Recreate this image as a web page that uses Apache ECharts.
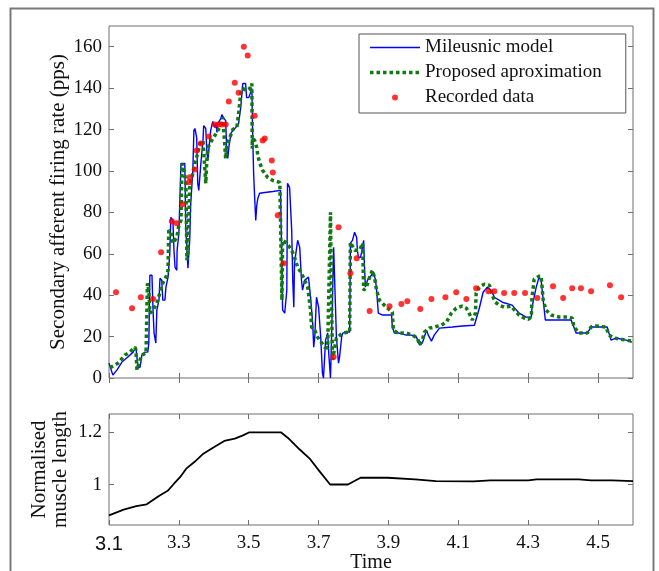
<!DOCTYPE html>
<html>
<head>
<meta charset="utf-8">
<script src="https://cdn.jsdelivr.net/npm/echarts@6/dist/echarts.min.js"></script>
<style>
html,body{margin:0;padding:0;background:#fff;}
#chart{width:659px;height:571px;}
</style>
</head>
<body>
<div id="chart"></div>
<script>
// ---------- Data ----------
const mileusnicTime = [3.100,3.111,3.123,3.137,3.154,3.169,3.177,3.180,3.183,3.189,
3.194,3.203,3.211,3.214,3.217,3.223,3.226,3.229,3.234,3.237,
3.243,3.246,3.251,3.254,3.260,3.263,3.269,3.274,3.277,3.283,
3.286,3.289,3.294,3.295,3.300,3.306,3.317,3.320,3.326,3.331,
3.334,3.340,3.343,3.346,3.351,3.354,3.357,3.363,3.369,3.371,
3.377,3.380,3.383,3.391,3.397,3.403,3.406,3.409,3.411,3.420,
3.423,3.429,3.434,3.437,3.440,3.443,3.449,3.454,3.463,3.471,
3.477,3.483,3.486,3.491,3.494,3.500,3.509,3.511,3.514,3.517,
3.520,3.523,3.526,3.531,3.546,3.569,3.591,3.594,3.597,3.603,
3.609,3.611,3.617,3.623,3.626,3.629,3.631,3.640,3.646,3.651,
3.654,3.660,3.671,3.677,3.683,3.686,3.689,3.694,3.700,3.706,
3.711,3.714,3.720,3.726,3.729,3.734,3.737,3.743,3.746,3.751,
3.757,3.760,3.766,3.769,3.780,3.789,3.791,3.797,3.803,3.809,
3.811,3.814,3.820,3.823,3.829,3.831,3.834,3.840,3.851,3.857,
3.863,3.866,3.871,3.883,3.909,3.911,3.917,3.931,3.951,3.966,
3.980,3.989,3.997,4.009,4.014,4.023,4.031,4.046,4.083,4.111,
4.146,4.160,4.171,4.183,4.194,4.203,4.226,4.254,4.274,4.294,
4.309,4.311,4.323,4.331,4.337,4.343,4.349,4.369,4.423,4.437,
4.469,4.480,4.526,4.537,4.551,4.580,4.597];
const mileusnicRate = [7.2,1.4,3.9,7.7,10.1,12.5,14.9,10.1,4.8,5.3,
11.1,12.5,12.5,16.9,49.6,49.6,32.8,21.7,16.9,32.8,
37.6,48.2,47.2,37.6,37.6,43.9,48.7,60.2,77.6,76.1,
61.7,53.5,52.0,61.7,69.9,103.6,103.6,71.3,53.0,66.5,
84.3,100.2,119.5,120.5,116.1,94.0,90.6,103.6,114.7,121.9,
120.5,109.9,105.1,119.5,123.9,121.0,122.9,118.6,122.9,125.3,
127.2,125.3,124.3,109.9,106.0,111.3,118.1,119.5,121.0,122.9,
130.6,142.2,143.1,142.2,135.4,135.4,139.8,119.5,98.8,87.2,
76.1,83.4,86.7,89.2,89.6,90.1,90.6,61.7,32.8,31.3,
42.4,94.0,92.0,71.3,47.2,34.2,55.4,66.5,63.1,47.2,
42.4,47.2,48.7,39.0,26.5,14.9,19.8,39.0,34.2,19.8,
2.4,0,18.3,21.7,12.0,0,18.3,63.1,47.2,19.8,
7.2,10.1,19.8,21.7,22.2,22.2,65.1,66.5,70.4,67.9,
61.7,58.3,58.3,60.7,66.5,55.4,43.9,47.2,49.6,51.1,
47.2,42.4,31.3,30.4,30.4,24.6,21.7,21.7,20.7,20.7,
19.8,15.9,16.9,23.1,20.7,17.8,20.7,24.1,24.6,25.1,
25.5,33.7,41.4,43.9,42.4,39.0,36.6,35.2,31.3,29.4,
29.4,34.2,43.9,48.7,47.2,37.6,28.0,28.0,28.0,21.7,
21.7,24.6,24.6,18.3,19.3,18.3,17.3];

const approxTime = [3.103,3.126,3.146,3.160,3.174,3.177,3.180,3.186,3.194,3.206,
3.209,3.210,3.214,3.217,3.226,3.237,3.246,3.254,3.263,3.269,
3.271,3.277,3.283,3.294,3.300,3.306,3.309,3.314,3.320,3.323,
3.326,3.331,3.340,3.346,3.354,3.360,3.369,3.374,3.377,3.380,
3.383,3.394,3.403,3.411,3.420,3.426,3.431,3.434,3.437,3.446,
3.454,3.466,3.471,3.477,3.483,3.494,3.503,3.509,3.510,3.511,
3.517,3.523,3.526,3.531,3.540,3.554,3.569,3.589,3.594,3.595,
3.597,3.609,3.623,3.631,3.640,3.651,3.660,3.669,3.677,3.680,
3.689,3.697,3.709,3.717,3.726,3.734,3.737,3.740,3.751,3.769,
3.789,3.791,3.803,3.817,3.826,3.829,3.837,3.846,3.854,3.860,
3.866,3.874,3.894,3.911,3.914,3.926,3.951,3.969,3.983,3.989,
3.997,4.003,4.017,4.031,4.051,4.066,4.080,4.094,4.111,4.123,
4.131,4.140,4.149,4.151,4.160,4.174,4.189,4.197,4.206,4.217,
4.231,4.251,4.266,4.274,4.289,4.300,4.309,4.311,4.317,4.331,
4.337,4.343,4.351,4.366,4.389,4.417,4.426,4.431,4.446,4.469,
4.480,4.494,4.523,4.531,4.546,4.580,4.597];
const approxRate = [5.0,7.2,11.1,12.5,14.9,13.5,3.9,7.2,11.1,12.0,
12.5,45.8,42.4,31.3,32.8,36.1,41.4,45.8,48.7,52.0,
71.3,70.4,65.1,67.9,73.7,76.1,103.6,100.2,95.4,56.9,
61.7,92.0,98.8,104.1,108.4,113.2,114.7,114.7,94.0,105.1,
111.3,114.7,117.1,119.5,121.9,125.8,126.7,106.0,112.3,116.1,
120.0,121.0,127.7,137.3,139.8,138.8,139.8,142.2,110.8,116.1,
114.7,111.3,107.5,104.1,100.2,96.9,95.4,94.5,94.0,37.6,
66.5,65.1,61.7,58.3,53.5,50.6,47.2,43.9,32.8,24.6,
23.1,19.8,16.9,14.9,14.5,80.0,37.6,8.7,19.3,21.7,
22.2,65.5,61.7,61.7,65.1,42.4,43.9,48.7,52.0,48.7,
42.4,37.6,34.2,31.8,23.1,21.7,21.7,20.7,19.3,15.9,
18.3,22.2,24.1,24.6,25.5,27.0,31.3,33.7,34.7,33.7,
31.3,28.0,31.3,41.0,43.9,45.3,44.8,40.0,36.6,35.2,
34.2,34.7,31.8,30.4,28.9,28.4,29.4,39.0,47.7,49.2,
49.2,37.6,32.8,30.4,29.4,29.4,28.9,24.6,21.7,21.7,
24.6,25.1,24.6,20.7,19.3,18.3,17.8];

const recordedTime = [3.120,3.166,3.191,3.226,3.249,3.280,3.294,3.311,3.329,3.331,
3.346,3.351,3.363,3.386,3.403,3.414,3.423,3.434,3.443,3.460,
3.471,3.486,3.497,3.517,3.540,3.546,3.566,3.569,3.583,3.600,
3.743,3.757,3.791,3.809,3.846,3.903,3.937,3.954,3.991,4.023,
4.063,4.094,4.123,4.151,4.186,4.203,4.231,4.260,4.291,4.326,
4.371,4.400,4.426,4.451,4.480,4.534,4.566];
const recordedRate = [41.4,33.7,39.0,38.1,60.7,75.7,74.7,83.9,94.5,96.9,
100.7,109.9,113.3,116.6,122.4,122.4,122.4,122.4,133.5,142.6,
137.8,160,155.7,126.7,114.7,115.7,105,99.3,78.6,55.4,
10.1,72.8,50.6,57.8,32.3,34.7,35.7,37.1,33.3,38.1,
39.0,41.4,38.1,43.4,41.9,41.9,41.0,41.0,41.0,38.6,
44.3,38.6,43.4,43.4,41.9,44.8,39.0];

const lengthTime = [3.100,3.142,3.178,3.208,3.244,3.268,3.286,3.304,3.322,3.346,
3.370,3.400,3.430,3.460,3.482,3.502,3.592,3.616,3.646,3.676,
3.700,3.733,3.784,3.820,3.898,3.976,4.036,4.144,4.192,4.300,
4.324,4.444,4.480,4.540,4.600];
const lengthValue = [0.882,0.904,0.917,0.924,0.957,0.976,1.003,1.029,1.062,1.088,
1.118,1.143,1.167,1.176,1.187,1.2,1.2,1.174,1.134,1.097,
1.055,1.0,1.0,1.026,1.026,1.02,1.013,1.012,1.016,1.016,
1.02,1.02,1.016,1.016,1.013];

const seriesNames = ['Mileusnic model', 'Proposed aproximation', 'Recorded data'];
const rateTicks = [0, 20, 40, 60, 80, 100, 120, 140, 160];
const lengthTicks = [1, 1.2];
const timeTicks = [3.1, 3.3, 3.5, 3.7, 3.9, 4.1, 4.3, 4.5];
const yTitleTop = 'Secondary afferent firing rate (pps)';
const yTitleBottom = 'Normalised\nmuscle length';
const xTitle = 'Time';

// ---------- Build ----------
const zip = (a, b) => a.map((v, i) => [v, b[i]]);
const SERIF = 'Liberation Serif';
const FRAME = '#6f6f6f';
const TXT = '#111';

// legend icons (50 x 18 box)
const iconBox = 'path://M0,0M50,18';
const iconSolid = iconBox + 'M0,8.3H50V9.7H0Z';
let iconDots = iconBox;
for (let x = 0; x + 3.5 <= 50; x += 6.5) iconDots += 'M' + x + ',7.25h3.5v3.5h-3.5Z';
const iconDot = iconBox + 'M22,9a3,3 0 1,0 6,0a3,3 0 1,0 -6,0Z';

function xAx(grid, pos, labels) {
  return {
    type: 'value', gridIndex: grid, position: pos, min: 3.1, max: 4.6,
    axisLine: { show: false },
    axisTick: { show: true, inside: true, length: 5, customValues: timeTicks, lineStyle: { color: FRAME } },
    splitLine: { show: false },
    axisLabel: labels ? {
      show: true, customValues: timeTicks, margin: 9,
      fontFamily: SERIF, fontSize: 19, color: TXT,
      formatter: v => {
        const s = (Math.round(v * 10) / 10).toFixed(1);
        return Math.abs(v - 3.1) < 1e-6 ? '{s|' + s + '}' : s;
      },
      rich: { s: { fontFamily: 'Liberation Sans', fontSize: 20, color: TXT } }
    } : { show: false },
    name: labels ? xTitle : '',
    nameLocation: 'middle', nameGap: 28, nameMoveOverlap: false,
    nameTextStyle: { fontFamily: SERIF, fontSize: 20, color: TXT }
  };
}
function yAx(grid, pos, min, max, ticks, labels, name, gap) {
  return {
    type: 'value', gridIndex: grid, position: pos, min: min, max: max,
    axisLine: { show: false },
    axisTick: { show: true, inside: true, length: 5, customValues: ticks, lineStyle: { color: FRAME } },
    splitLine: { show: false },
    axisLabel: labels ? {
      show: true, customValues: ticks, margin: 7,
      fontFamily: SERIF, fontSize: 19, color: TXT,
      formatter: v => String(Math.round(v * 10) / 10)
    } : { show: false },
    name: name || '', nameLocation: 'middle', nameGap: gap || 0, nameMoveOverlap: false,
    nameTextStyle: { fontFamily: SERIF, fontSize: 21, color: TXT, lineHeight: 21 }
  };
}

const option = {
  animation: false,
  backgroundColor: '#fff',
  graphic: [{
    type: 'rect', left: 8, top: 6, silent: true,
    shape: { width: 643, height: 640 },
    style: { fill: 'none', stroke: '#7a7a7a', lineWidth: 2 }
  }],
  grid: [
    { left: 109, top: 26, width: 524, height: 352, show: true, borderColor: FRAME, borderWidth: 1, backgroundColor: '#fff', outerBoundsMode: 'none', containLabel: false },
    { left: 109, top: 414, width: 524, height: 111, show: true, borderColor: FRAME, borderWidth: 1, backgroundColor: '#fff', outerBoundsMode: 'none', containLabel: false }
  ],
  xAxis: [xAx(0, 'bottom', false), xAx(0, 'top', false), xAx(1, 'bottom', true), xAx(1, 'top', false)],
  yAxis: [
    yAx(0, 'left', 0, 170, rateTicks, true, yTitleTop, 40),
    yAx(0, 'right', 0, 170, rateTicks, false),
    yAx(1, 'left', 0.845, 1.27, lengthTicks, true, yTitleBottom, 38),
    yAx(1, 'right', 0.845, 1.27, lengthTicks, false)
  ],
  legend: {
    orient: 'vertical', left: 359, top: 34,
    padding: [4, 24, 6, 11],
    itemWidth: 50, itemHeight: 18, itemGap: 6,
    backgroundColor: '#fff', borderColor: '#555', borderWidth: 1,
    textStyle: { fontFamily: SERIF, fontSize: 19, color: TXT },
    selectedMode: false,
    data: [
      { name: seriesNames[0], icon: iconSolid },
      { name: seriesNames[1], icon: iconDots },
      { name: seriesNames[2], icon: iconDot }
    ]
  },
  series: [
    {
      name: seriesNames[0], type: 'line', xAxisIndex: 0, yAxisIndex: 0,
      data: zip(mileusnicTime, mileusnicRate), symbol: 'none', showSymbol: false,
      lineStyle: { color: '#0000ff', width: 1.4 }, itemStyle: { color: '#0000ff' }, z: 3
    },
    {
      name: seriesNames[1], type: 'line', xAxisIndex: 0, yAxisIndex: 0,
      data: zip(approxTime, approxRate), symbol: 'none', showSymbol: false,
      lineStyle: { color: '#0f7a0f', width: 3.5, type: [3.5, 3], cap: 'butt' }, itemStyle: { color: '#0f7a0f' }, z: 4
    },
    {
      name: seriesNames[2], type: 'scatter', xAxisIndex: 0, yAxisIndex: 0,
      data: zip(recordedTime, recordedRate), symbol: 'circle', symbolSize: 6,
      itemStyle: { color: '#ff0000' }, z: 5
    },
    {
      name: 'Normalised muscle length', type: 'line', xAxisIndex: 2, yAxisIndex: 2,
      data: zip(lengthTime, lengthValue), symbol: 'none', showSymbol: false,
      lineStyle: { color: '#000', width: 1.8 }
    }
  ]
};

const chart = echarts.init(document.getElementById('chart'), null, { renderer: 'canvas' });
chart.setOption(option);
</script>
</body>
</html>
